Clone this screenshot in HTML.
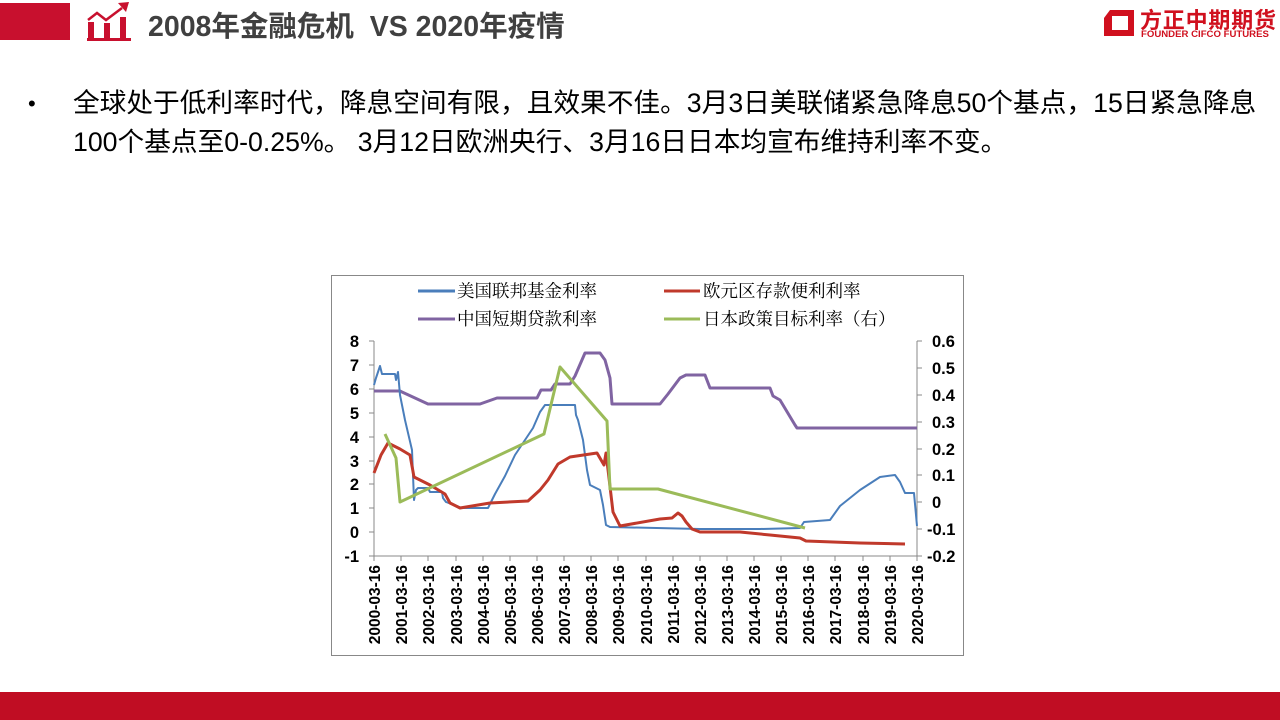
<!DOCTYPE html>
<html><head><meta charset="utf-8"><style>
body{margin:0;width:1280px;height:720px;background:#fff;position:relative;overflow:hidden;font-family:"Liberation Sans","Noto Sans CJK SC",sans-serif}
.t{position:absolute;white-space:nowrap}
</style></head><body>
<div style="position:absolute;left:0;top:3px;width:70px;height:37px;background:#c8102e"></div>
<svg style="position:absolute;left:84px;top:0" width="50" height="42">
<polyline points="4,20 13,13 22,20 38,8" fill="none" stroke="#c8102e" stroke-width="2.5"/>
<polygon points="34,3 45,2 42,12" fill="#c8102e"/>
<rect x="4" y="22" width="6" height="16" fill="#c8102e"/><rect x="20" y="23" width="6" height="15" fill="#c8102e"/><rect x="36" y="17" width="6" height="21" fill="#c8102e"/>
<rect x="3" y="38" width="44" height="3" fill="#c8102e"/>
</svg>
<div class="t" style="left:148px;top:4px;font-size:28.5px;font-weight:bold;color:#404040">2008年金融危机&nbsp; VS 2020年疫情</div>
<svg style="position:absolute;left:1102px;top:8px" width="34" height="30"><path d="M8,2 H32 V28 H2 V10 Z M10,8 V22 H26 V8 Z" fill="#d0101e" fill-rule="evenodd"/></svg>
<div class="t" style="left:1140px;top:3px;font-size:22px;font-weight:bold;color:#d0101e;letter-spacing:0.8px">方正中期期货</div>
<div class="t" style="left:1141px;top:29px;font-size:9.6px;font-weight:bold;color:#d0101e">FOUNDER CIFCO FUTURES</div>
<div class="t" style="left:28px;top:91px;font-size:22px;color:#000">•</div>
<div class="t" style="left:73px;top:84px;font-size:26.7px;line-height:39px;color:#000">全球处于低利率时代，降息空间有限，且效果不佳。3月3日美联储紧急降息50个基点，15日紧急降息<br>100个基点至0-0.25%。 3月12日欧洲央行、3月16日日本均宣布维持利率不变。</div>
<svg style="position:absolute;left:0;top:0" width="1280" height="720" font-family="Liberation Serif,Noto Serif CJK SC,serif">
<rect x="331.5" y="275.5" width="632" height="380" fill="none" stroke="#888"/>
<g stroke="#888" stroke-width="1">
<line x1="374" y1="341" x2="374" y2="556"/><line x1="917" y1="341" x2="917" y2="556"/>
<line x1="374" y1="556" x2="917" y2="556"/>
</g>
<g stroke="#888">
<path d="M369,341h5M369,365h5M369,389h5M369,413h5M369,437h5M369,461h5M369,484h5M369,508h5M369,532h5M369,556h5"/>
<path d="M917,341h5M917,368h5M917,395h5M917,422h5M917,449h5M917,475h5M917,502h5M917,529h5M917,556h5"/>
<path d="M374,556v5M401,556v5M428,556v5M456,556v5M483,556v5M510,556v5M537,556v5M564,556v5M591,556v5M618,556v5M646,556v5M673,556v5M700,556v5M727,556v5M754,556v5M781,556v5M808,556v5M835,556v5M863,556v5M890,556v5M917,556v5"/>
</g>
<g font-family="Liberation Sans,sans-serif" font-weight="bold" font-size="16.5" fill="#000">
<g text-anchor="end"><text x="359" y="347">8</text><text x="359" y="371">7</text><text x="359" y="395">6</text><text x="359" y="419">5</text><text x="359" y="443">4</text><text x="359" y="467">3</text><text x="359" y="490">2</text><text x="359" y="514">1</text><text x="359" y="538">0</text><text x="359" y="562">-1</text></g>
<g><text x="932" y="347">0.6</text><text x="932" y="374">0.5</text><text x="932" y="401">0.4</text><text x="932" y="428">0.3</text><text x="932" y="455">0.2</text><text x="932" y="481">0.1</text><text x="932" y="508">0</text><text x="927" y="535">-0.1</text><text x="927" y="562">-0.2</text></g>
<g font-size="15.5" text-anchor="end">
<text transform="translate(380,565) rotate(-90)">2000-03-16</text><text transform="translate(407,565) rotate(-90)">2001-03-16</text><text transform="translate(434,565) rotate(-90)">2002-03-16</text><text transform="translate(462,565) rotate(-90)">2003-03-16</text><text transform="translate(489,565) rotate(-90)">2004-03-16</text><text transform="translate(516,565) rotate(-90)">2005-03-16</text><text transform="translate(543,565) rotate(-90)">2006-03-16</text><text transform="translate(570,565) rotate(-90)">2007-03-16</text><text transform="translate(597,565) rotate(-90)">2008-03-16</text><text transform="translate(624,565) rotate(-90)">2009-03-16</text><text transform="translate(652,565) rotate(-90)">2010-03-16</text><text transform="translate(679,565) rotate(-90)">2011-03-16</text><text transform="translate(706,565) rotate(-90)">2012-03-16</text><text transform="translate(733,565) rotate(-90)">2013-03-16</text><text transform="translate(760,565) rotate(-90)">2014-03-16</text><text transform="translate(787,565) rotate(-90)">2015-03-16</text><text transform="translate(814,565) rotate(-90)">2016-03-16</text><text transform="translate(841,565) rotate(-90)">2017-03-16</text><text transform="translate(869,565) rotate(-90)">2018-03-16</text><text transform="translate(896,565) rotate(-90)">2019-03-16</text><text transform="translate(923,565) rotate(-90)">2020-03-16</text>
</g></g>
<g fill="none" stroke-width="3" stroke-linejoin="round">
<polyline stroke="#8064a2" points="374,391 400,391 402,392 428,404 480,404 497,398 537,398 541,390 551,390 555,384 570,384 575,376 585,353 600,353 605,360 610,378 612,404 660,404 668,394 680,378 686,375 705,375 710,388 770,388 773,396 780,400 795,425 797,428 917,428"/>
<polyline stroke="#4a7ebb" stroke-width="2" points="374,385 376,378 378,372 380,366 382,374 395,374 396,380 398,372 400,395 405,420 412,450 414,500 416,490 418,488 428,488 430,492 442,492 443,498 446,502 462,508 488,508 495,494 505,476 515,455 525,440 533,428 540,412 545,405 575,405 576,415 578,420 583,440 585,455 587,470 590,485 600,490 603,505 606,525 610,527 700,529 760,529 800,528 804,522 830,520 840,506 860,490 880,477 895,475 900,482 905,493 914,493 917,526"/>
<polyline stroke="#c0392b" points="374,473 381,455 388,443 400,449 410,455 414,477 430,485 445,494 450,503 460,508 490,503 528,501 540,490 548,480 558,464 570,457 597,453 604,465 606,453 609,478 613,512 620,526 660,519 672,518 678,513 682,516 686,522 692,529 700,532 740,532 770,535 800,538 806,541 860,543 905,544"/>
<polyline stroke="#9bbb59" points="385,434 396,458 400,502 544,434 560,367 607,421 610,489 658,489 805,528"/>
<line x1="418" y1="291" x2="455" y2="291" stroke="#4a7ebb"/>
<line x1="664" y1="291" x2="700" y2="291" stroke="#c0392b"/>
<line x1="418" y1="319" x2="455" y2="319" stroke="#8064a2"/>
<line x1="664" y1="319" x2="700" y2="319" stroke="#9bbb59"/>
</g>
<g font-size="17.5" fill="#000">
<text x="457" y="297">美国联邦基金利率</text><text x="703" y="297">欧元区存款便利利率</text>
<text x="457" y="325">中国短期贷款利率</text><text x="703" y="325">日本政策目标利率（右）</text>
</g>
</svg>
<div style="position:absolute;left:0;top:692px;width:1280px;height:28px;background:#c00d23"></div>
</body></html>
